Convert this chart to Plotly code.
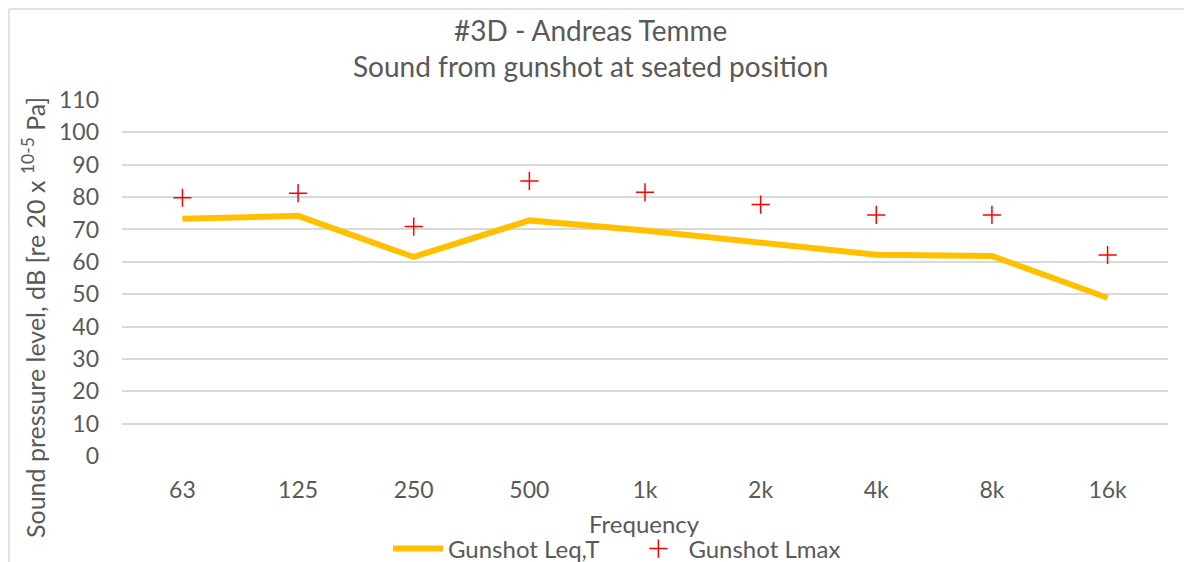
import plotly.graph_objects as go

categories = ["63", "125", "250", "500", "1k", "2k", "4k", "8k", "16k"]
leq = [73.3, 74.2, 61.5, 72.8, 69.7, 65.8, 62.2, 61.8, 48.9]
lmax = [79.8, 81.2, 70.9, 85.0, 81.5, 77.7, 74.5, 74.5, 62.1]
y_ticks = list(range(0, 111, 10))

# the browser page adds an 8px body margin; work in reference pixels and shift
O = 8
W, H = 1192 - O, 562 - O
PL, PR, PT, PB = 122, 1168, 100, 456  # plot area in reference pixels
L, R, T, B = PL - O, W - (PR - O), PT - O, H - (PB - O)
pw, ph = W - L - R, H - T - B

def px(x):
    return (x - PL) / pw

def py(y):
    return (PB - y) / ph

FONT = "Lato"
GREY = "#595959"
NB = "\u00a0"

fig = go.Figure()
fig.add_trace(go.Scatter(x=categories, y=leq, mode="lines", name="Gunshot Leq,T" + NB * 4,
                         line=dict(color="#FFC000", width=6)))
fig.add_trace(go.Scatter(x=categories, y=lmax, mode="markers", name="Gunshot Lmax",
                         marker=dict(symbol="cross-thin", size=13,
                                     line=dict(color="#FF0000", width=1.5), color="#FF0000")))

fig.update_layout(
    width=W, height=H,
    margin=dict(l=L, r=R, t=T, b=B, autoexpand=False),
    paper_bgcolor="white", plot_bgcolor="white",
    font=dict(family=FONT, color=GREY, size=22),
    showlegend=True,
    legend=dict(orientation="h", x=px(617), xanchor="center", y=py(549), yanchor="middle",
                font=dict(size=24, color=GREY), bgcolor="rgba(0,0,0,0)",
                itemwidth=50, tracegroupgap=0),
    xaxis=dict(type="category", showgrid=False, zeroline=False, showline=False,
               ticks="", tickfont=dict(size=23, color=GREY), ticklabelstandoff=18,
               automargin=False),
    yaxis=dict(range=[0, 110], tickvals=y_ticks, showgrid=True, gridcolor="#D9D9D9",
               gridwidth=1.5, zeroline=False, showline=False, ticks="",
               tickfont=dict(size=23, color=GREY), ticklabelstandoff=22,
               automargin=False),
    annotations=[
        dict(text="#3D - Andreas Temme<br>Sound from gunshot at seated position",
             x=px(590), y=py(48), xref="paper", yref="paper", showarrow=False,
             xanchor="center", yanchor="middle", font=dict(size=28, color=GREY)),
        dict(text="Frequency", x=px(644), y=py(523), xref="paper", yref="paper",
             showarrow=False, xanchor="center", yanchor="middle",
             font=dict(size=24, color=GREY)),
        dict(text="Sound pressure level, dB [re 20 x <sup>10-5</sup> Pa]",
             x=px(33), y=py(318), xref="paper", yref="paper", showarrow=False,
             textangle=-90, xanchor="center", yanchor="middle",
             font=dict(size=25, color=GREY)),
    ],
    shapes=[
        dict(type="line", xref="paper", yref="paper", x0=px(9), x1=px(1200),
             y0=py(9), y1=py(9), line=dict(color="#D9D9D9", width=1.5)),
        dict(type="line", xref="paper", yref="paper", x0=px(9), x1=px(9),
             y0=py(9), y1=py(570), line=dict(color="#D9D9D9", width=1.5)),
    ],
)

fig.write_html("out.html")
